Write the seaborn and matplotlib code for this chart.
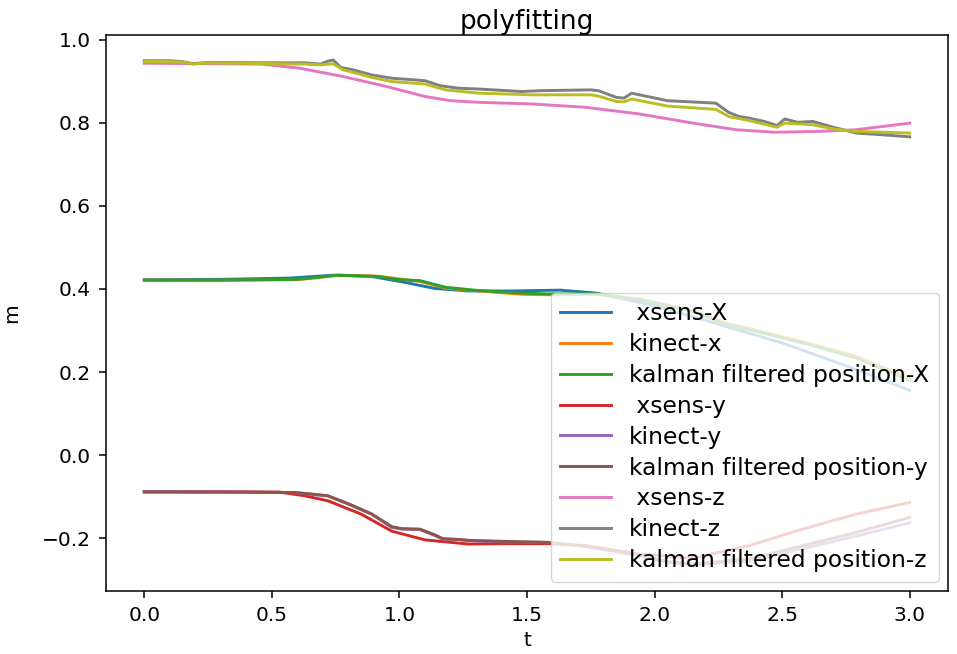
import matplotlib
matplotlib.use("Agg")
import matplotlib.pyplot as plt
import seaborn as sns
import pandas as pd

# ---- data ----
labels = [" xsens-X", "kinect-x", "kalman filtered position-X",
          " xsens-y", "kinect-y", "kalman filtered position-y",
          " xsens-z", "kinect-z", "kalman filtered position-z"]

t_xsens_x = [0, 0.3, 0.57, 0.74, 0.89, 1.01, 1.14, 1.27, 1.44, 1.63, 1.77, 2.0, 2.25, 2.5, 2.75, 3.0]
v_xsens_x = [0.422, 0.423, 0.426, 0.433, 0.430, 0.417, 0.401, 0.395, 0.395, 0.397, 0.390, 0.36, 0.315, 0.27, 0.215, 0.156]

t_kin_x = [0, 0.3, 0.6, 0.68, 0.76, 0.91, 1.0, 1.08, 1.18, 1.31, 1.48, 1.58, 1.77, 1.94, 2.15, 2.28, 2.37, 2.58, 2.79, 3.0]
v_kin_x = [0.421, 0.421, 0.422, 0.427, 0.433, 0.431, 0.424, 0.418, 0.402, 0.395, 0.387, 0.386, 0.387, 0.376, 0.348, 0.318, 0.305, 0.273, 0.238, 0.185]

t_kal_x = [0, 0.3, 0.6, 0.68, 0.76, 0.91, 1.0, 1.08, 1.18, 1.31, 1.48, 1.58, 1.77, 1.94, 2.15, 2.28, 2.37, 2.58, 2.79, 3.0]
v_kal_x = [0.421, 0.421, 0.423, 0.428, 0.433, 0.430, 0.422, 0.420, 0.404, 0.396, 0.390, 0.388, 0.388, 0.374, 0.346, 0.314, 0.302, 0.270, 0.234, 0.180]

t_xsens_y = [0, 0.3, 0.53, 0.63, 0.72, 0.85, 0.97, 1.1, 1.27, 1.44, 1.58, 1.73, 1.94, 2.15, 2.37, 2.58, 2.79, 3.0]
v_xsens_y = [-0.088, -0.088, -0.089, -0.098, -0.110, -0.142, -0.183, -0.204, -0.214, -0.213, -0.213, -0.218, -0.238, -0.248, -0.218, -0.178, -0.142, -0.114]

t_kin_y = [0, 0.3, 0.59, 0.68, 0.72, 0.80, 0.89, 0.97, 1.01, 1.08, 1.14, 1.17, 1.23, 1.27, 1.44, 1.58, 1.73, 1.94, 2.05, 2.15, 2.37, 2.58, 2.79, 3.0]
v_kin_y = [-0.088, -0.089, -0.090, -0.096, -0.098, -0.118, -0.142, -0.174, -0.178, -0.179, -0.194, -0.202, -0.203, -0.206, -0.209, -0.210, -0.220, -0.242, -0.258, -0.264, -0.255, -0.225, -0.195, -0.163]

t_kal_y = [0, 0.3, 0.59, 0.68, 0.72, 0.80, 0.89, 0.97, 1.01, 1.08, 1.14, 1.17, 1.23, 1.27, 1.44, 1.58, 1.73, 1.94, 2.05, 2.15, 2.37, 2.58, 2.79, 3.0]
v_kal_y = [-0.089, -0.089, -0.090, -0.095, -0.098, -0.117, -0.141, -0.172, -0.177, -0.178, -0.192, -0.201, -0.203, -0.205, -0.208, -0.210, -0.219, -0.240, -0.256, -0.262, -0.250, -0.218, -0.186, -0.150]

t_xsens_z = [0, 0.2, 0.46, 0.61, 0.78, 0.95, 1.1, 1.2, 1.31, 1.52, 1.73, 1.94, 2.15, 2.32, 2.47, 2.64, 2.79, 3.0]
v_xsens_z = [0.943, 0.942, 0.941, 0.931, 0.911, 0.887, 0.863, 0.853, 0.849, 0.845, 0.837, 0.821, 0.799, 0.783, 0.777, 0.779, 0.783, 0.799]

t_kin_z = [0, 0.1, 0.15, 0.19, 0.25, 0.5, 0.63, 0.69, 0.72, 0.74, 0.77, 0.82, 0.89, 0.97, 1.06, 1.1, 1.16, 1.23, 1.31, 1.48, 1.55, 1.75, 1.78, 1.85, 1.88, 1.91, 2.05, 2.24, 2.29, 2.33, 2.37, 2.43, 2.48, 2.51, 2.56, 2.62, 2.70, 2.79, 2.89, 3.0]
v_kin_z = [0.949, 0.949, 0.947, 0.942, 0.945, 0.944, 0.944, 0.941, 0.948, 0.951, 0.933, 0.927, 0.915, 0.907, 0.903, 0.901, 0.889, 0.883, 0.881, 0.875, 0.877, 0.879, 0.877, 0.861, 0.859, 0.871, 0.853, 0.847, 0.825, 0.815, 0.811, 0.803, 0.793, 0.809, 0.801, 0.803, 0.789, 0.775, 0.771, 0.766]

t_kal_z = [0, 0.1, 0.15, 0.19, 0.25, 0.5, 0.63, 0.69, 0.74, 0.78, 0.82, 0.89, 0.97, 1.1, 1.18, 1.31, 1.52, 1.75, 1.78, 1.85, 1.88, 1.91, 2.05, 2.24, 2.29, 2.37, 2.48, 2.51, 2.62, 2.70, 2.79, 3.0]
v_kal_z = [0.947, 0.947, 0.946, 0.941, 0.944, 0.942, 0.941, 0.939, 0.942, 0.927, 0.921, 0.909, 0.899, 0.893, 0.879, 0.871, 0.867, 0.867, 0.864, 0.851, 0.850, 0.857, 0.840, 0.832, 0.815, 0.805, 0.789, 0.799, 0.795, 0.785, 0.779, 0.775]

series_t = [t_xsens_x, t_kin_x, t_kal_x, t_xsens_y, t_kin_y, t_kal_y, t_xsens_z, t_kin_z, t_kal_z]
series_v = [v_xsens_x, v_kin_x, v_kal_x, v_xsens_y, v_kin_y, v_kal_y, v_xsens_z, v_kin_z, v_kal_z]

rows = []
for lab, ts, vs in zip(labels, series_t, series_v):
    for t, v in zip(ts, vs):
        rows.append({"t": t, "m": v, "series": lab})
df = pd.DataFrame(rows)

# ---- plot ----
plt.rcParams.update({
    "font.family": ["DejaVu Sans"],
    "font.size": 14.5,
    "axes.linewidth": 1.1,
    "xtick.major.size": 5,
    "ytick.major.size": 5,
    "xtick.major.width": 1.1,
    "ytick.major.width": 1.1,
    "xtick.major.pad": 6,
    "ytick.major.pad": 6,
})

fig = plt.figure(figsize=(9.57, 6.54), dpi=100)
ax = fig.add_axes([106 / 957, 1 - 591 / 654, (948 - 106) / 957, (591 - 35) / 654])

palette = sns.color_palette("tab10", 9)
sns.lineplot(data=df, x="t", y="m", hue="series", hue_order=labels,
             palette=palette, estimator=None, sort=False, linewidth=2.1, ax=ax)

ax.set_xlim(-0.15, 3.15)
ax.set_ylim(-0.327, 1.011)
ax.set_title("polyfitting", fontsize=19, pad=2)
ax.set_xlabel("t", fontsize=14.5, labelpad=4)
ax.set_ylabel("m", fontsize=14.5, labelpad=15)
ax.tick_params(labelsize=14.5)

handles, lbls = ax.get_legend_handles_labels()
ax.legend(handles, lbls, loc="lower right", fontsize=16.8, borderaxespad=0.4,
          labelspacing=0.34, handlelength=2.15)

fig.savefig("out.png", dpi=100)
